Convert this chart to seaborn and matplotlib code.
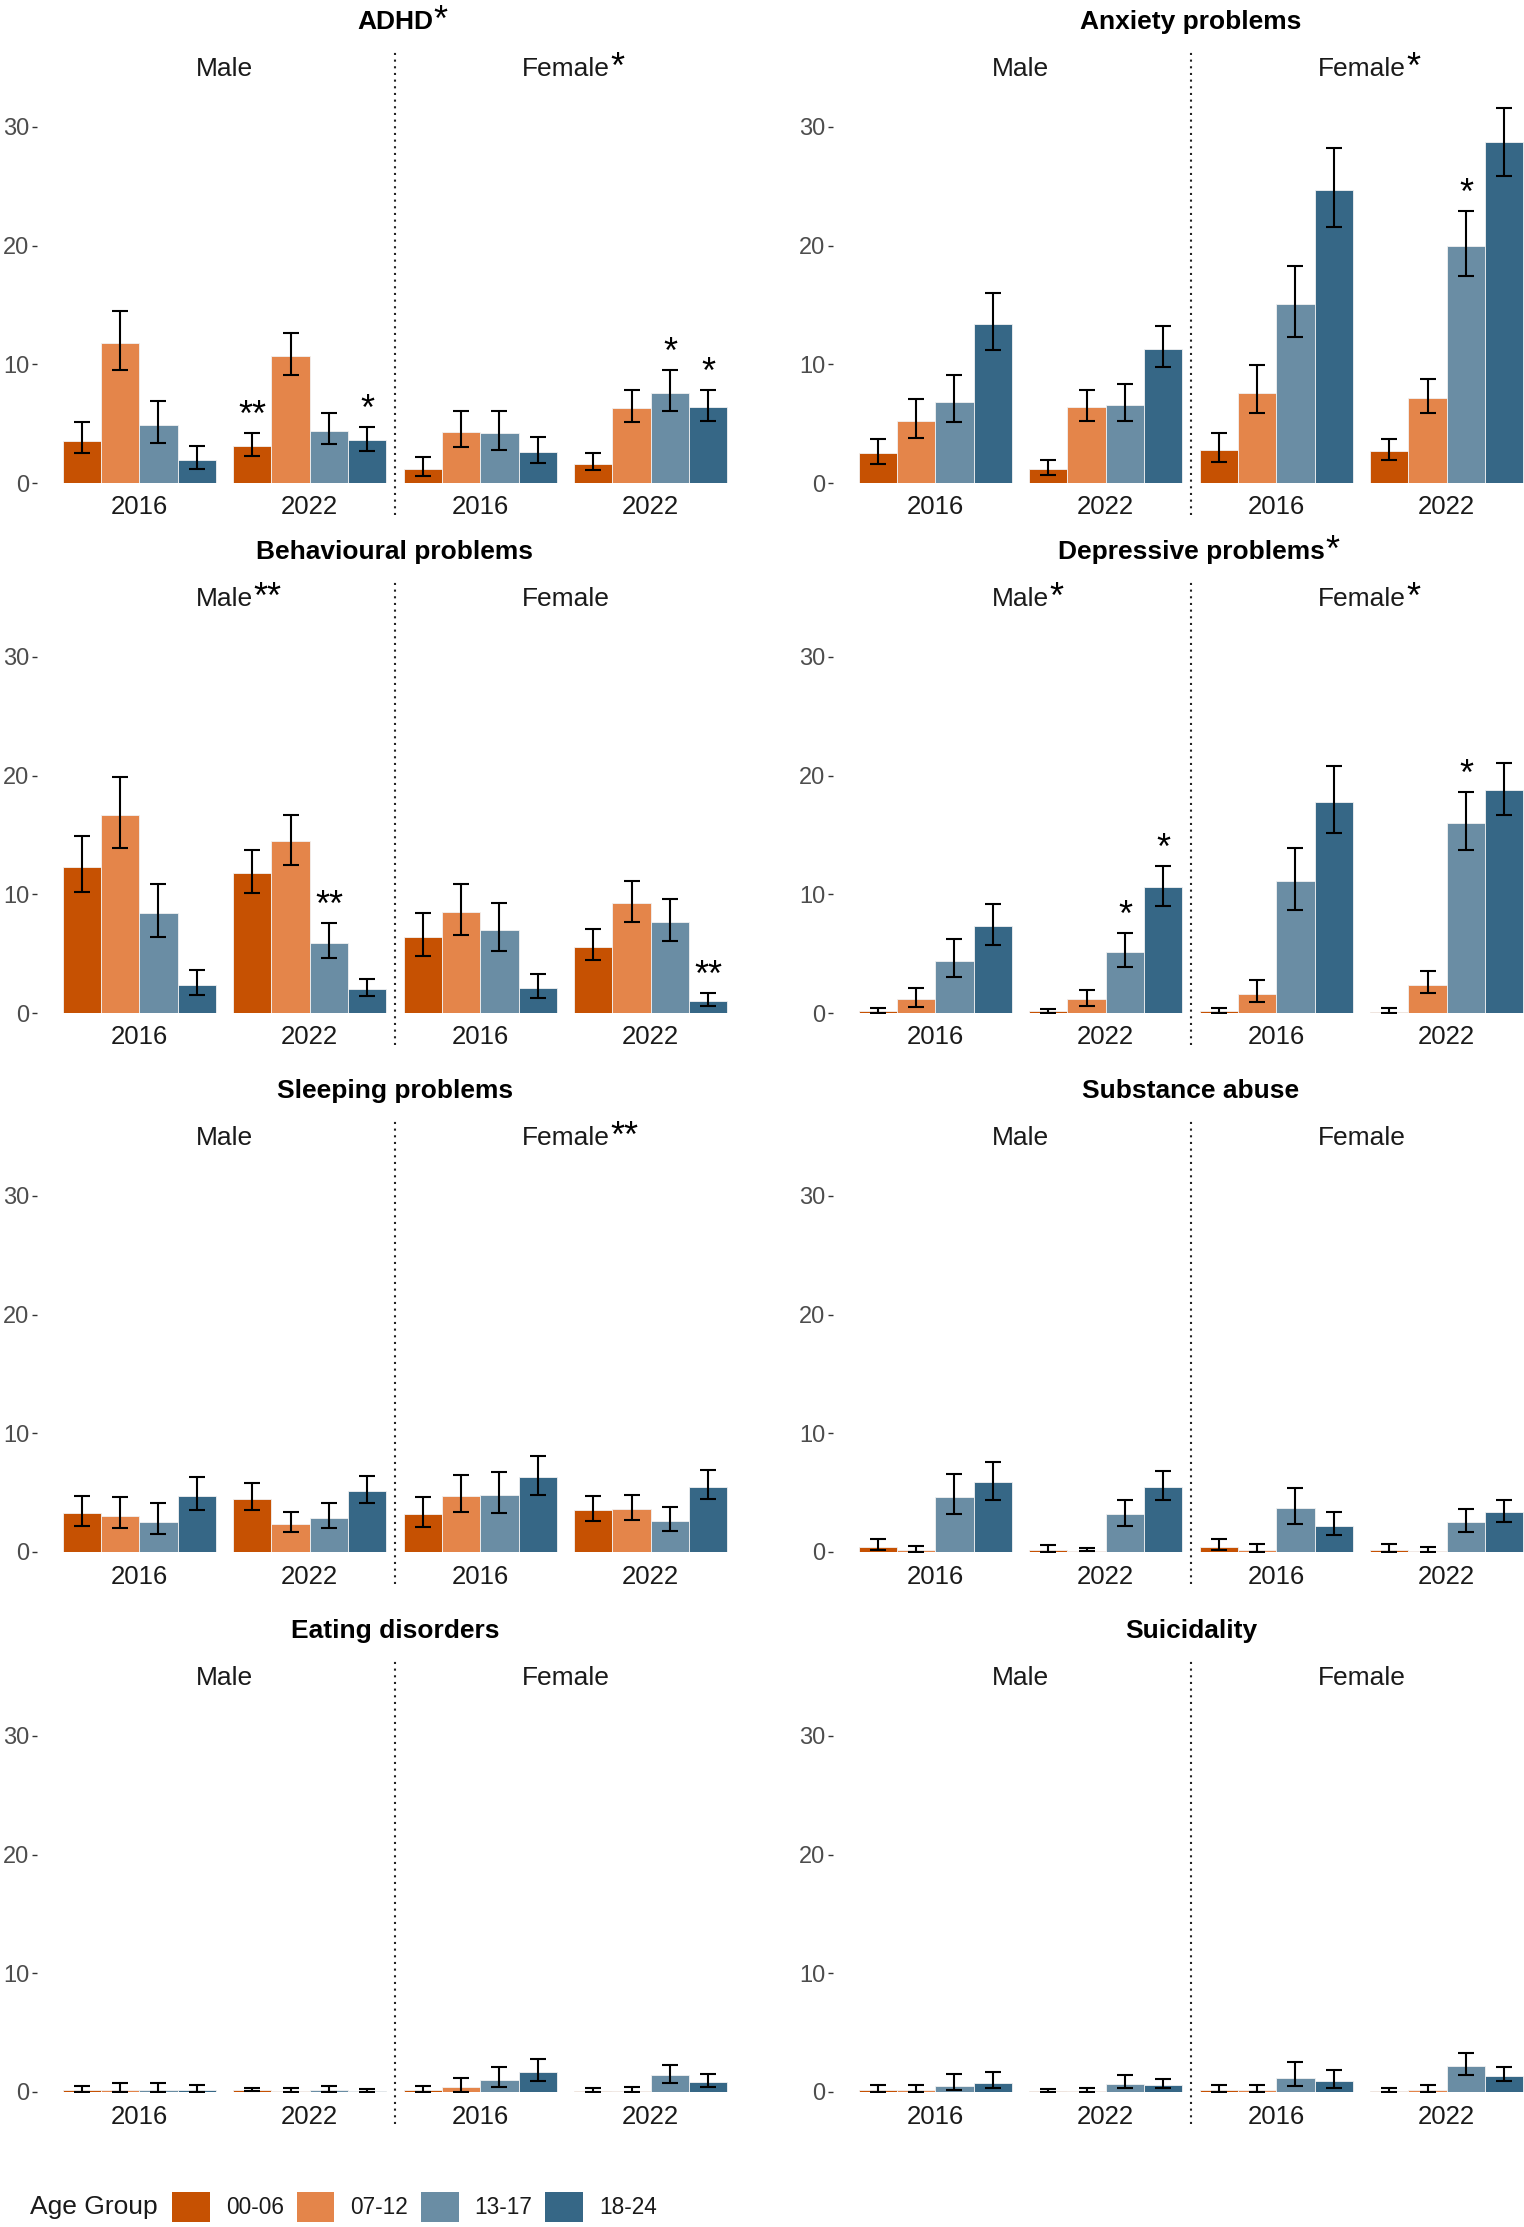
import numpy as np
import pandas as pd
import matplotlib
matplotlib.use("Agg")
import matplotlib.pyplot as plt
import seaborn as sns
from matplotlib.patches import Patch

# Bars are ordered Male 2016, Male 2022, Female 2016, Female 2022,
# each with age groups 00-06, 07-12, 13-17, 18-24
ages = ["00-06", "07-12", "13-17", "18-24"]
groups = ["Male 2016", "Male 2022", "Female 2016", "Female 2022"]
year_labels = ["2016", "2022", "2016", "2022"]
age_colors = ["#C65102", "#E4854A", "#6A8DA4", "#366786"]

adhd_val = [3.5, 11.8, 4.9, 1.9, 3.1, 10.7, 4.4, 3.6, 1.2, 4.3, 4.2, 2.6, 1.6, 6.3, 7.6, 6.4]
adhd_lo = [2.5, 9.5, 3.4, 1.2, 2.3, 9.1, 3.3, 2.7, 0.6, 3.0, 2.8, 1.7, 1.1, 5.1, 6.1, 5.2]
adhd_hi = [5.1, 14.5, 6.9, 3.1, 4.2, 12.6, 5.9, 4.7, 2.2, 6.1, 6.1, 3.9, 2.5, 7.8, 9.5, 7.8]

anx_val = [2.5, 5.2, 6.8, 13.4, 1.2, 6.4, 6.6, 11.3, 2.8, 7.6, 15.1, 24.7, 2.7, 7.2, 20.0, 28.7]
anx_lo = [1.6, 3.8, 5.1, 11.2, 0.7, 5.2, 5.2, 9.8, 1.8, 5.9, 12.3, 21.6, 1.9, 5.9, 17.4, 25.9]
anx_hi = [3.7, 7.1, 9.1, 16.0, 1.9, 7.8, 8.3, 13.2, 4.2, 9.9, 18.3, 28.2, 3.7, 8.8, 22.9, 31.6]

beh_val = [12.3, 16.7, 8.4, 2.4, 11.8, 14.5, 5.9, 2.0, 6.4, 8.5, 7.0, 2.1, 5.6, 9.3, 7.7, 1.05]
beh_lo = [10.2, 13.9, 6.4, 1.5, 10.1, 12.5, 4.6, 1.4, 4.8, 6.6, 5.2, 1.3, 4.5, 7.7, 6.1, 0.6]
beh_hi = [14.9, 19.9, 10.9, 3.6, 13.7, 16.7, 7.6, 2.9, 8.4, 10.9, 9.3, 3.3, 7.1, 11.1, 9.6, 1.7]

dep_val = [0.2, 1.2, 4.4, 7.3, 0.15, 1.2, 5.1, 10.6, 0.2, 1.6, 11.1, 17.8, 0.1, 2.4, 16.0, 18.8]
dep_lo = [0.0, 0.5, 3.0, 5.7, 0.0, 0.6, 3.9, 9.0, 0.0, 0.9, 8.7, 15.2, 0.0, 1.7, 13.7, 16.7]
dep_hi = [0.45, 2.1, 6.2, 9.2, 0.35, 1.9, 6.7, 12.4, 0.45, 2.8, 13.9, 20.8, 0.45, 3.5, 18.6, 21.1]

sleep_val = [3.3, 3.0, 2.5, 4.7, 4.5, 2.4, 2.9, 5.1, 3.2, 4.7, 4.8, 6.3, 3.5, 3.6, 2.6, 5.5]
sleep_lo = [2.2, 2.0, 1.5, 3.5, 3.5, 1.7, 2.0, 4.1, 2.1, 3.4, 3.3, 4.8, 2.6, 2.7, 1.8, 4.5]
sleep_hi = [4.7, 4.6, 4.1, 6.3, 5.8, 3.4, 4.1, 6.4, 4.6, 6.5, 6.7, 8.1, 4.7, 4.8, 3.8, 6.9]

subst_val = [0.4, 0.15, 4.6, 5.9, 0.2, 0.1, 3.2, 5.5, 0.4, 0.15, 3.7, 2.2, 0.2, 0.1, 2.5, 3.4]
subst_lo = [0.15, 0.0, 3.2, 4.4, 0.0, 0.05, 2.2, 4.4, 0.15, 0.0, 2.4, 1.4, 0.0, 0.0, 1.7, 2.5]
subst_hi = [1.1, 0.47, 6.6, 7.6, 0.6, 0.3, 4.4, 6.8, 1.1, 0.7, 5.4, 3.4, 0.65, 0.4, 3.6, 4.4]

eat_val = [0.2, 0.2, 0.2, 0.15, 0.15, 0.1, 0.2, 0.12, 0.15, 0.4, 1.0, 1.7, 0.1, 0.1, 1.4, 0.85]
eat_lo = [0.0, 0.0, 0.0, 0.0, 0.05, 0.0, 0.0, 0.0, 0.0, 0.03, 0.4, 0.9, 0.0, 0.0, 0.75, 0.4]
eat_hi = [0.5, 0.75, 0.8, 0.6, 0.3, 0.3, 0.5, 0.26, 0.5, 1.15, 2.1, 2.75, 0.3, 0.45, 2.3, 1.5]

sui_val = [0.15, 0.15, 0.5, 0.8, 0.1, 0.1, 0.7, 0.6, 0.15, 0.15, 1.2, 0.9, 0.1, 0.13, 2.2, 1.35]
sui_lo = [0.0, 0.0, 0.15, 0.3, 0.0, 0.0, 0.3, 0.3, 0.0, 0.0, 0.5, 0.35, 0.0, 0.0, 1.4, 0.9]
sui_hi = [0.55, 0.55, 1.55, 1.65, 0.25, 0.3, 1.45, 1.1, 0.55, 0.6, 2.5, 1.85, 0.3, 0.55, 3.3, 2.1]

conditions = ["ADHD", "Anxiety problems", "Behavioural problems", "Depressive problems",
              "Sleeping problems", "Substance abuse", "Eating disorders", "Suicidality"]
values = [adhd_val, anx_val, beh_val, dep_val, sleep_val, subst_val, eat_val, sui_val]
lows = [adhd_lo, anx_lo, beh_lo, dep_lo, sleep_lo, subst_lo, eat_lo, sui_lo]
highs = [adhd_hi, anx_hi, beh_hi, dep_hi, sleep_hi, subst_hi, eat_hi, sui_hi]

# significance marks
title_stars = {"ADHD": "*", "Depressive problems": "*"}
strip_star_cond = ["ADHD", "Anxiety problems", "Behavioural problems", "Depressive problems",
                   "Depressive problems", "Sleeping problems"]
strip_star_sex = ["Female", "Female", "Male", "Male", "Female", "Female"]
strip_star_text = ["*", "*", "**", "*", "*", "**"]
bar_star_cond = ["ADHD", "ADHD", "ADHD", "ADHD", "Anxiety problems",
                 "Behavioural problems", "Behavioural problems",
                 "Depressive problems", "Depressive problems", "Depressive problems"]
bar_star_group = ["Male 2022", "Male 2022", "Female 2022", "Female 2022", "Female 2022",
                  "Male 2022", "Female 2022", "Male 2022", "Male 2022", "Female 2022"]
bar_star_age = ["00-06", "18-24", "13-17", "18-24", "13-17",
                "13-17", "18-24", "13-17", "18-24", "13-17"]
bar_star_text = ["**", "*", "*", "*", "*", "**", "**", "*", "*", "*"]

sns.set_theme(style="white")
plt.rcParams["font.family"] = ["Liberation Sans", "DejaVu Sans"]

W, H = 1524, 2227
fig = plt.figure(figsize=(W / 100, H / 100), dpi=100)

zero_rows = [483, 1013, 1552, 2092]
col_left = [37, 833]
px_unit = 11.87
ytop = 33.2
ax_w = 716
ax_h = ytop * px_unit

for i, cond in enumerate(conditions):
    r, c = divmod(i, 2)
    ax = fig.add_axes([col_left[c] / W, (H - zero_rows[r]) / H, ax_w / W, ax_h / H])
    df = pd.DataFrame({
        "group": np.repeat(groups, 4),
        "age": ages * 4,
        "value": values[i],
        "lo": lows[i],
        "hi": highs[i],
    })
    sns.barplot(data=df, x="group", y="value", hue="age", order=groups, hue_order=ages,
                palette=age_colors, width=0.9, errorbar=None, saturation=1,
                edgecolor="#f2f2f2", linewidth=0.6, legend=False, ax=ax)
    bar_conts = list(ax.containers)

    # error bars at bar centres
    for k, cont in enumerate(bar_conts):
        sub = df[df["age"] == ages[k]].set_index("group").loc[groups]
        xs = [b.get_x() + b.get_width() / 2 for b in cont]
        v = sub["value"].values
        ax.errorbar(xs, v, yerr=[v - sub["lo"].values, sub["hi"].values - v], fmt="none",
                    ecolor="black", elinewidth=1.5, capsize=6, capthick=1.5)
        for j, g in enumerate(groups):
            for s in range(len(bar_star_cond)):
                if bar_star_cond[s] == cond and bar_star_group[s] == g and bar_star_age[s] == ages[k]:
                    ax.text(xs[j], sub["hi"].values[j] + 0.6, bar_star_text[s], ha="center",
                            va="baseline", fontsize=26, color="black")

    ax.set_xlim(-0.6, 3.6)
    ax.set_ylim(0, ytop)
    ax.set_yticks([0, 10, 20, 30])
    ax.set_xticks(range(4))
    ax.set_xticklabels(year_labels)
    ax.set_xlabel("")
    ax.set_ylabel("")
    for sp in ax.spines.values():
        sp.set_visible(False)
    ax.tick_params(axis="y", left=True, length=3.5, width=1, color="#333333", pad=2,
                   labelsize=17, labelcolor="#4D4D4D")
    ax.tick_params(axis="x", length=0, pad=9, labelsize=18.5, labelcolor="#1a1a1a")
    ax.patch.set_alpha(0)

    # separator between sexes
    ax.plot([1.5, 1.5], [-2.7, 36.5], linestyle=(0, (1, 2.2)), color="#222222", lw=1.5,
            clip_on=False)

    # sex strips
    for sx, xpos in [("Male", 0.5), ("Female", 2.5)]:
        mark = ""
        for s in range(len(strip_star_cond)):
            if strip_star_cond[s] == cond and strip_star_sex[s] == sx:
                mark = strip_star_text[s]
        t = ax.text(xpos, 34.9, sx, ha="center", va="center", fontsize=19,
                    color="#1a1a1a", clip_on=False)
        if mark:
            ax.annotate(mark, xy=(1, 1), xycoords=t, xytext=(0.5, 4), textcoords="offset points",
                        ha="left", va="top", fontsize=26, color="black")

    # condition title
    mark = title_stars.get(cond, "")
    t = ax.text(1.5, 38.8, cond, ha="center", va="center", fontsize=19,
                fontweight="bold", color="black", clip_on=False)
    if mark:
        ax.annotate(mark, xy=(1, 1), xycoords=t, xytext=(0.5, 5), textcoords="offset points",
                    ha="left", va="top", fontsize=26, color="black")

# legend
handles = [Patch(facecolor=col, edgecolor="none") for col in age_colors]
fig.text(30 / W, 20 / H, "Age Group", ha="left", va="center", fontsize=19, color="#1a1a1a")
fig.legend(handles, ages, ncol=4, loc="center left", bbox_to_anchor=(172 / W, 20 / H),
           frameon=False, fontsize=16.3, handlelength=1.67, handleheight=1.67,
           handletextpad=0.7, columnspacing=0.57, borderpad=0, borderaxespad=0,
           labelcolor="#1a1a1a")

fig.savefig("out.png", dpi=100)
